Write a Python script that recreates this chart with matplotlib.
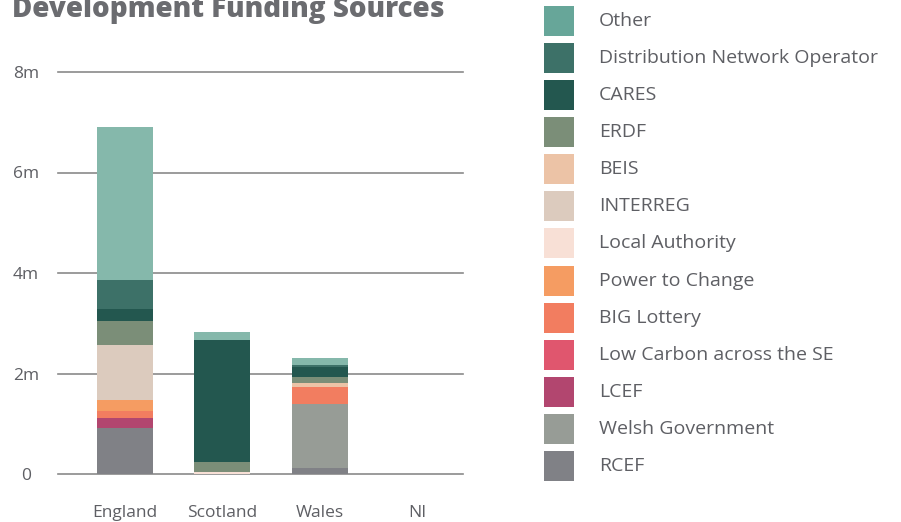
import matplotlib
matplotlib.use('Agg')
import matplotlib.pyplot as plt
from matplotlib.patches import Rectangle
import numpy as np

regions = ['England', 'Scotland', 'Wales', 'NI']

# stacked bottom -> top, values in millions
sources = ['RCEF', 'Welsh Government', 'LCEF', 'Low Carbon across the SE',
           'BIG Lottery', 'Power to Change', 'Local Authority', 'INTERREG',
           'BEIS', 'ERDF', 'CARES', 'Distribution Network Operator', 'Other']
rcef = [0.915, 0.0, 0.12, 0.0]
welsh_gov = [0.0, 0.0, 1.27, 0.0]
lcef = [0.20, 0.0, 0.0, 0.0]
low_carbon_se = [0.0, 0.0, 0.0, 0.0]
big_lottery = [0.14, 0.0, 0.34, 0.0]
power_to_change = [0.22, 0.0, 0.0, 0.0]
local_authority = [0.0, 0.04, 0.0, 0.0]
interreg = [1.09, 0.0, 0.0, 0.0]
beis = [0.0, 0.0, 0.08, 0.0]
erdf = [0.48, 0.20, 0.12, 0.0]
cares = [0.24, 2.43, 0.20, 0.0]
dno = [0.58, 0.0, 0.04, 0.0]
other = [3.04, 0.16, 0.14, 0.0]

y_ticks = [0, 2, 4, 6, 8]
y_tick_labels = ['0', '2m', '4m', '6m', '8m']

series = [rcef, welsh_gov, lcef, low_carbon_se, big_lottery, power_to_change,
          local_authority, interreg, beis, erdf, cares, dno, other]
legend_colors = ['#808186', '#979c96', '#b2466f', '#e0566e', '#f27d60', '#f59c62',
                 '#f8e0d6', '#dccbbe', '#ecc3a6', '#7b8e78', '#23574f', '#3d7168', '#67a699']
bar_colors = legend_colors[:-1] + ['#85b8ab']

text_color = '#5e5f64'
plt.rcParams['font.family'] = ['Open Sans', 'DejaVu Sans']

W, H = 901, 522
fig = plt.figure(figsize=(W / 100, H / 100), dpi=100)
ax = fig.add_axes([58 / W, (H - 474) / H, 405 / W, 402 / H])

x = np.arange(len(regions))
bottom = np.zeros(len(regions))
for vals, col in zip(series, bar_colors):
    ax.bar(x, vals, bottom=bottom, width=0.574, color=col, zorder=3, linewidth=0)
    bottom += np.array(vals)

ax.set_xlim(-0.687, 3.467)
ax.set_ylim(0, 8)
ax.set_yticks(y_ticks)
ax.set_yticklabels(y_tick_labels)
ax.set_xticks(x)
ax.set_xticklabels(regions)
ax.yaxis.grid(True, color='#8a8a8a', linewidth=1.2, zorder=0)
for gl in ax.get_ygridlines():
    gl.set_clip_on(False)
ax.tick_params(axis='both', length=0, labelsize=12.5, labelcolor=text_color)
ax.tick_params(axis='y', pad=23)
ax.tick_params(axis='x', pad=22)
for lbl in ax.get_yticklabels():
    lbl.set_horizontalalignment('center')
for s in ax.spines.values():
    s.set_visible(False)

fig.text(12 / W, 1 - 17 / H, 'Development Funding Sources', fontsize=20,
         fontweight='heavy', color='#6b6c70', va='baseline', ha='left')

# legend, drawn row by row: Other at top, RCEF at bottom
row_top, row_pitch, box = 6, 37.08, 30
for i, (name, col) in enumerate(zip(sources[::-1], legend_colors[::-1])):
    top = row_top + i * row_pitch
    fig.add_artist(Rectangle((544 / W, 1 - (top + box) / H), box / W, box / H,
                             transform=fig.transFigure, facecolor=col,
                             edgecolor='none'))
    fig.text(599 / W, 1 - (top + box / 2) / H, name, fontsize=14,
             color=text_color, va='center', ha='left')

fig.savefig('out.png', dpi=100)
